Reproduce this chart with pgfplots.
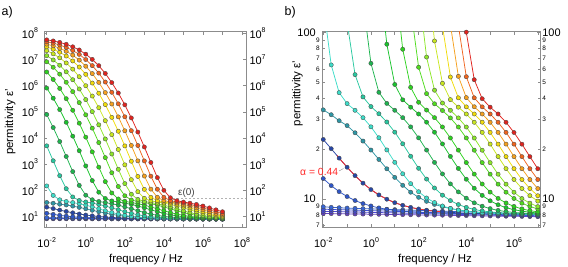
\documentclass[border=0pt]{standalone}
\usepackage{pgfplots}
\pgfplotsset{compat=1.18}
\usepackage{pgfplotstable}
\usepackage{fontspec}
\setmainfont{Liberation Sans}

\definecolor{framegray}{HTML}{8C8C8C}
\definecolor{medge}{HTML}{4A4A4A}
\definecolor{cB1}{HTML}{6440C8}
\definecolor{cB2}{HTML}{4B46D7}
\definecolor{cB3}{HTML}{3C50E1}
\definecolor{cB4}{HTML}{3764D2}
\definecolor{cB5}{HTML}{2D55C8}
\definecolor{cB6}{HTML}{2846A5}
\definecolor{cB7}{HTML}{2D96A5}
\definecolor{cC1}{HTML}{3CDCC8}
\definecolor{cC2}{HTML}{28C8A0}
\definecolor{cC3}{HTML}{1EB450}
\definecolor{cC4}{HTML}{19C32D}
\definecolor{cC5}{HTML}{2DD21E}
\definecolor{cC6}{HTML}{50DC1E}
\definecolor{cC7}{HTML}{8CE628}
\definecolor{cC8}{HTML}{C8E61E}
\definecolor{cC9}{HTML}{F0DC0A}
\definecolor{cC10}{HTML}{F5A01E}
\definecolor{cC11}{HTML}{F0641E}
\definecolor{cC12}{HTML}{E1231E}
\definecolor{fitred}{HTML}{FF2828}

\pgfplotstableread{
f B1 B2 B3 B4 B5 B6 B7 C1 C2 C3 C4 C5 C6 C7 C8 C9 C10 C11 C12
0.01 8.20 8.45 8.70 9.00 13.28 22.79 34.3 147.6 5024 7.92e4 8.08e5 3.33e6 8.15e6 1.40e7 2.17e7 3.05e7 3.87e7 4.75e7 5.63e7
0.021544 8.19 8.43 8.67 8.93 12.05 20.06 32.08 63.8 1346 2.51e4 3.32e5 1.726e6 5.05e6 9.60e6 1.65e7 2.48e7 3.32e7 4.21e7 5.12e7
0.046416 8.17 8.41 8.64 8.88 11.09 17.62 29.52 43.5 362.6 7303 1.218e5 7.84e5 2.76e6 6.02e6 1.159e7 1.90e7 2.69e7 3.59e7 4.52e7
0.1 8.16 8.39 8.62 8.84 10.36 15.54 27.6 37.4 115.3 1966 3.98e4 3.18e5 1.352e6 3.39e6 7.39e6 1.358e7 2.06e7 2.90e7 3.81e7
0.21544 8.15 8.37 8.59 8.80 9.81 13.83 25.0 34.1 55.8 521 1.177e4 1.147e5 5.90e5 1.686e6 4.28e6 8.81e6 1.468e7 2.21e7 3.06e7
0.46416 8.14 8.35 8.56 8.77 9.40 12.47 22.3 30.8 41.0 154.2 3251 3.68e4 2.244e5 7.47e5 2.196e6 5.16e6 9.47e6 1.565e7 2.31e7
1 8.12 8.33 8.53 8.74 9.10 11.41 19.7 27.14 35.9 65.2 857 1.078e4 7.68e4 2.93e5 9.94e5 2.72e6 5.53e6 1.00e7 1.60e7
2.1544 8.11 8.31 8.51 8.71 8.86 10.60 17.3 23.33 32.5 43.7 236 2950 2.38e4 1.017e5 4.01e5 1.258e6 2.90e6 5.83e6 1.01e7
4.6416 8.10 8.29 8.48 8.68 8.69 9.99 15.2 19.73 29.0 37.5 84.9 772 6702 3.19e4 1.435e5 5.15e5 1.332e6 3.02e6 5.81e6
10 8.08 8.27 8.45 8.65 8.56 9.52 13.5 16.63 25.22 34.1 48.7 214.7 1781 9186 4.59e4 1.887e5 5.44e5 1.376e6 2.93e6
21.544 8.07 8.25 8.42 8.62 8.47 9.18 12.1 14.19 21.46 30.8 39.4 79.2 470 2448 1.341e4 6.14e4 1.99e5 5.58e5 1.31e6
46.416 8.06 8.23 8.39 8.59 8.39 8.92 11.0 12.38 18.08 27.11 35.6 46.8 140.1 638 3638 1.813e4 6.42e4 2.02e5 5.25e5
100 8.04 8.21 8.37 8.56 8.34 8.73 10.25 11.08 15.31 23.30 32.4 38.1 61.8 181 944 4986 1.89e4 6.47e4 1.85e5
215.44 8.03 8.18 8.34 8.53 8.29 8.58 9.7 10.16 13.19 19.69 28.94 34.2 42.9 71.1 255.6 1295 5185 1.90e4 5.85e4
464.16 8.02 8.16 8.31 8.50 8.26 8.47 9.3 9.54 11.66 16.60 25.19 30.8 37.3 45.0 88.8 340 1340 5170 1.69e4
1000 8.01 8.14 8.28 8.47 8.24 8.39 9.0 9.10 10.56 14.16 21.43 27.08 34.0 37.7 49.5 108.9 351 1331 4540
2154.4 7.99 8.12 8.26 8.44 8.21 8.33 8.78 8.80 9.80 12.34 18.04 23.27 30.7 34.1 39.5 54.0 111.1 348 1166
4641.6 7.98 8.10 8.23 8.41 8.20 8.28 8.62 8.59 9.28 11.05 15.28 19.67 27.07 30.7 35.6 40.5 54.5 110.1 307
1e4 7.97 8.08 8.20 8.38 8.18 8.24 8.48 8.45 8.92 10.13 13.16 16.57 23.26 27.06 32.4 35.75 40.6 54.2 100.3
21544 7.95 8.06 8.17 8.35 8.17 8.22 8.39 8.35 8.67 9.50 11.62 14.13 19.65 23.25 28.9 32.4 35.8 40.5 52.0
46416 7.94 8.04 8.14 8.32 8.16 8.19 8.32 8.28 8.50 9.07 10.53 12.32 16.56 19.65 25.15 28.93 32.4 35.75 40.0
1e5 7.93 8.02 8.12 8.29 8.15 8.17 8.27 8.23 8.38 8.77 9.77 11.02 14.12 16.55 21.39 25.14 28.9 32.4 35.6
215440 7.91 8.00 8.09 8.26 8.14 8.16 8.23 8.20 8.30 8.56 9.25 10.10 12.30 14.11 18.0 21.38 25.13 28.9 32.4
464160 7.90 7.98 8.06 8.23 8.13 8.15 8.20 8.17 8.24 8.42 8.89 9.48 11.01 12.30 15.24 18.0 21.38 25.13 28.9
1e6 7.89 7.96 8.03 8.20 8.12 8.13 8.17 8.15 8.20 8.32 8.64 9.04 10.09 11.00 13.12 15.23 17.99 21.37 25.1
2154400 7.88 7.94 8.00 8.16 8.12 8.12 8.15 8.13 8.17 8.25 8.47 8.74 9.46 10.08 11.58 13.11 15.22 17.98 21.36
4641600 7.86 7.92 7.98 8.12 8.11 8.11 8.13 8.12 8.14 8.20 8.35 8.53 9.03 9.46 10.49 11.58 13.10 15.22 17.98
1e7 7.85 7.90 7.95 8.08 8.10 8.11 8.12 8.11 8.12 8.16 8.26 8.39 8.73 9.02 9.73 10.48 11.57 13.1 15.21
}\datatable

\newcommand{\lab}[1]{10\raisebox{0.95ex}{\fontsize{7}{7}\selectfont #1}}
\newcommand{\ticfont}{\fontsize{11}{12}\selectfont}
\newcommand{\smallfont}{\fontsize{6.5}{7}\selectfont}
\newcommand{\labfont}{\fontsize{11.5}{14}\selectfont}

\newcommand{\ser}[2]{\addplot[color=#2, line width=0.75bp, mark=*, mark size=2.15bp,
  mark options={fill=#2, draw=medge, line width=0.35bp, solid}] table[x=f, y=#1] {\datatable};}
\newcommand{\allseries}{%
\ser{B1}{cB1}\ser{B2}{cB2}\ser{B3}{cB3}\ser{B4}{cB4}\ser{B5}{cB5}\ser{B6}{cB6}\ser{B7}{cB7}%
\ser{C1}{cC1}\ser{C2}{cC2}\ser{C3}{cC3}\ser{C4}{cC4}\ser{C5}{cC5}\ser{C6}{cC6}%
\ser{C7}{cC7}\ser{C8}{cC8}\ser{C9}{cC9}\ser{C10}{cC10}\ser{C11}{cC11}\ser{C12}{cC12}}

\begin{document}
\begin{tikzpicture}
\path[use as bounding box] (0,0) rectangle (568bp,267bp);

% ---------------- panel a ----------------
\begin{axis}[at={(44bp,39.5bp)}, anchor=south west, scale only axis, width=202bp, height=196bp,
  xmode=log, ymode=log,
  axis line style={color=framegray, line width=0.7bp},
  tick style={color=framegray, line width=0.6bp},
  major tick length=3.5bp, minor tick length=0pt,
  tick align=inside,
  tick label style={font=\ticfont},
  xticklabel style={yshift=-6.5bp},
  yticklabel style={xshift=-2.5bp},
  xmin=0.00728, xmax=1.6e8, ymin=3.8, ymax=1.175e8,
  xtick={1e-2,1e-1,1,10,100,1e3,1e4,1e5,1e6,1e7,1e8},
  xticklabels={\lab{-2},,\lab{0},,\lab{2},,\lab{4},,\lab{6},,\lab{8}},
  ytick={1e1,1e2,1e3,1e4,1e5,1e6,1e7,1e8},
  yticklabels={\lab{1},\lab{2},\lab{3},\lab{4},\lab{5},\lab{6},\lab{7},\lab{8}},
  xlabel={frequency / Hz}, ylabel={permittivity ε'},
  xlabel style={font=\labfont, at={(axis description cs:0.505,-0.163)}, anchor=center},
  ylabel style={font=\labfont, at={(axis description cs:-0.168,0.538)}, anchor=center}]
\addplot[color=black!30, line width=0.7bp, dash pattern=on 2bp off 2bp, forget plot] coordinates {(3e4,48) (2e8,48)};
\allseries
\end{axis}
\begin{axis}[at={(44bp,39.5bp)}, anchor=south west, scale only axis, width=202bp, height=196bp,
  xmode=log, ymode=log,
  xmin=0.00728, xmax=1.6e8, ymin=3.8, ymax=1.175e8,
  axis line style={draw=none}, major tick length=0pt, minor tick length=0pt,
  tick label style={font=\ticfont},
  xtick=\empty,
  ytick={1e1,1e2,1e3,1e4,1e5,1e6,1e7,1e8},
  yticklabels={\lab{1},\lab{2},\lab{3},\lab{4},\lab{5},\lab{6},\lab{7},\lab{8}},
  yticklabel pos=right]
\end{axis}

% ---------------- panel b ----------------
\begin{axis}[at={(322.3bp,39.5bp)}, anchor=south west, scale only axis, width=218.5bp, height=196bp,
  xmode=log, ymode=log,
  axis line style={color=framegray, line width=0.7bp},
  tick style={color=framegray, line width=0.6bp},
  major tick length=3.5bp, minor tick length=0pt,
  tick align=inside,
  tick label style={font=\ticfont},
  xticklabel style={yshift=-6.5bp},
  xmin=0.00912, xmax=1.334e7, ymin=6.76, ymax=101.2,
  xtick={1e-2,1e-1,1,10,100,1e3,1e4,1e5,1e6,1e7},
  xticklabels={\lab{-2},,\lab{0},,\lab{2},,\lab{4},,\lab{6},},
  ytick={10,100}, yticklabels={10,100},
  yticklabel style={xshift=-3bp},
  extra y ticks={7,8,9,20,30,40,50,60,70,80,90},
  extra y tick labels={7,8,9,2,3,4,5,6,7,8,9},
  extra y tick style={major tick length=2.5bp, yticklabel style={font=\smallfont, xshift=4bp}},
  xlabel={frequency / Hz}, ylabel={permittivity ε'},
  xlabel style={font=\labfont, at={(axis description cs:0.516,-0.163)}, anchor=center},
  ylabel style={font=\labfont, at={(axis description cs:-0.114,0.685)}, anchor=center}]
\allseries
\addplot[color=fitred, line width=0.8bp, forget plot] coordinates {(0.038,18.3) (0.046416,17.62) (0.1,15.54) (0.21544,13.83) (0.46416,12.47) (1,11.41) (2.1544,10.60) (4.6416,9.99) (10,9.52) (21.544,9.18) (46.416,8.92) (100,8.73) (215.44,8.58) (464.16,8.47) (1000,8.39)};
\end{axis}
\begin{axis}[at={(322.3bp,39.5bp)}, anchor=south west, scale only axis, width=218.5bp, height=196bp,
  xmode=log, ymode=log,
  xmin=0.00912, xmax=1.334e7, ymin=6.76, ymax=101.2,
  axis line style={draw=none}, major tick length=0pt, minor tick length=0pt,
  tick label style={font=\ticfont},
  xtick=\empty,
  ytick={10,100}, yticklabels={10,100}, yticklabel pos=right,
  yticklabel style={xshift=-2bp},
  extra y ticks={7,8,9,20,30,40,50,60,70,80,90},
  extra y tick labels={7,8,9,2,3,4,5,6,7,8,9},
  extra y tick style={yticklabel style={font=\smallfont, xshift=0bp}}]
\end{axis}

% ---------------- annotations ----------------
\node[anchor=north west, inner sep=0pt, font=\fontsize{12.5}{14}\selectfont] at (1.5bp,260.3bp) {a)};
\node[anchor=north west, inner sep=0pt, font=\fontsize{12.5}{14}\selectfont] at (284.5bp,260.3bp) {b)};
\node[inner sep=0pt, font=\fontsize{10}{12}\selectfont, text=black!75] at (186.5bp,74.5bp) {ε(0)};
\node[anchor=west, inner sep=0pt, font=\fontsize{10.4}{12}\selectfont, text=fitred] at (300bp,95bp) {α = 0.44};
\draw[color=black!45, line width=0.4bp] (339bp,96bp) -- (343.5bp,98.5bp);
\end{tikzpicture}
\end{document}
